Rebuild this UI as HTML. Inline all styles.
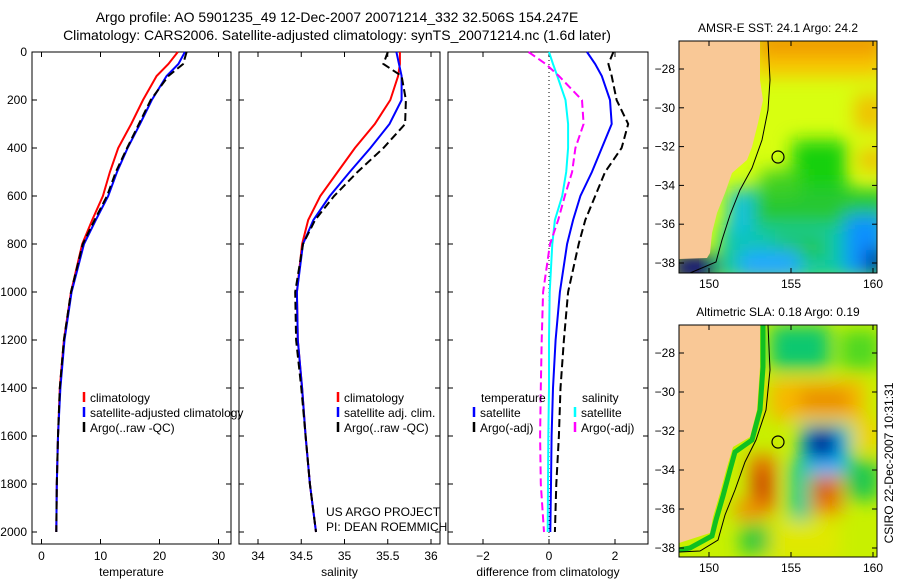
<!DOCTYPE html>
<html><head><meta charset="utf-8"><style>
body{margin:0;background:#fff;width:900px;height:580px;overflow:hidden}
svg{font-family:"Liberation Sans",sans-serif}
</style></head><body>
<svg id="s" width="900" height="580" xmlns="http://www.w3.org/2000/svg">
<defs>
<filter id="bl" x="-20%" y="-20%" width="140%" height="140%"><feGaussianBlur stdDeviation="9"/></filter>
<clipPath id="c1"><rect x="679" y="41" width="198" height="232"/></clipPath>
<clipPath id="c2"><rect x="679" y="325" width="198" height="232"/></clipPath>
</defs>
<text x="337" y="22" font-size="14" text-anchor="middle">Argo profile: AO 5901235_49 12-Dec-2007 20071214_332 32.506S 154.247E</text>
<text x="337" y="40" font-size="14" text-anchor="middle">Climatology: CARS2006. Satellite-adjusted climatology: synTS_20071214.nc (1.6d later)</text>

<g>
<g clip-path="url(#c1)">
<rect x="679" y="41" width="198" height="232" fill="#d8ff10"/>
<g filter="url(#bl)">
<rect x="755" y="30" width="130" height="30" fill="#f09800"/>
<rect x="755" y="55" width="130" height="22" fill="#f8c400"/>
<rect x="855" y="95" width="30" height="35" fill="#f0c000"/>
<rect x="860" y="150" width="25" height="20" fill="#f0b800"/>
<rect x="792" y="140" width="55" height="60" fill="#18d010"/>
<rect x="740" y="188" width="150" height="45" fill="#28c830"/>
<rect x="760" y="170" width="40" height="25" fill="#40d020"/>
<rect x="720" y="225" width="170" height="55" fill="#10c8a8"/>
<rect x="775" y="235" width="50" height="25" fill="#20c850"/>
<rect x="845" y="215" width="40" height="60" fill="#1090ff"/>
<rect x="740" y="250" width="60" height="30" fill="#20a8ff"/>
<rect x="866" y="250" width="20" height="25" fill="#000090"/>
<rect x="672" y="255" width="45" height="25" fill="#000080"/>
<rect x="728" y="190" width="25" height="45" fill="#10c0e0"/>
</g>
</g>
<polygon points="679,41 760,41 760,80 763,100 758,123 752,147 747,160 732,173 725,193 717,213 712,233 710,253 707,258 679,259" fill="#f9c896"/>
<polyline points="768,41 770,80 768,110 762,140 752,168 740,190 730,215 722,240 716,262 690,273" fill="none" stroke="#000" stroke-width="1"/>
<circle cx="778" cy="157" r="6" fill="none" stroke="#000" stroke-width="1.2"/>
<rect x="679" y="41" width="198" height="232" fill="none" stroke="#000"/>
<text x="778" y="32" font-size="12" text-anchor="middle">AMSR-E SST: 24.1 Argo: 24.2</text>
</g>

<g>
<g clip-path="url(#c2)">
<rect x="679" y="325" width="198" height="232" fill="#c8f000"/>
<g filter="url(#bl)">
<rect x="770" y="325" width="60" height="45" fill="#10c870"/>
<rect x="840" y="330" width="40" height="40" fill="#50d820"/>
<rect x="770" y="380" width="95" height="40" fill="#f8b800"/>
<rect x="800" y="390" width="50" height="20" fill="#e88800"/>
<rect x="800" y="425" width="50" height="50" fill="#10b8ff"/>
<rect x="806" y="430" width="32" height="28" fill="#000090"/>
<rect x="790" y="460" width="20" height="60" fill="#10c8a0"/>
<rect x="750" y="455" width="25" height="60" fill="#e87000"/>
<rect x="756" y="470" width="12" height="30" fill="#c02000"/>
<rect x="812" y="475" width="30" height="40" fill="#f08000"/>
<rect x="818" y="482" width="12" height="16" fill="#b00000"/>
<rect x="735" y="500" width="25" height="20" fill="#f09000"/>
<rect x="845" y="460" width="35" height="40" fill="#20c850"/>
<rect x="760" y="520" width="80" height="40" fill="#e0e800"/>
<rect x="740" y="525" width="30" height="30" fill="#30c840"/>
<rect x="855" y="420" width="25" height="30" fill="#f0d000"/>
</g>
</g>
<polyline points="763,325 763,367 760,410 752,440 735,452 730,470 723,496 716,520 712,536 690,548 679,550" fill="none" stroke="#10c020" stroke-width="5"/>
<polygon points="679,325 760,325 760,367 757,410 750,437 733,447 727,467 720,493 713,517 710,533 679,543" fill="#f9c896"/>
<polyline points="768,325 770,370 766,410 756,440 745,462 735,490 725,515 718,540 700,551 679,552" fill="none" stroke="#000" stroke-width="1"/>
<circle cx="778" cy="442" r="6" fill="none" stroke="#000" stroke-width="1.2"/>
<rect x="679" y="325" width="198" height="232" fill="none" stroke="#000"/>
<text x="778" y="316" font-size="12" text-anchor="middle">Altimetric SLA: 0.18 Argo: 0.19</text>
</g>
<text transform="translate(893,463) rotate(-90)" font-size="12" text-anchor="middle">CSIRO 22-Dec-2007 10:31:31</text>
<g id="g"></g>
</svg>
<script>
const depths=[0,50,100,200,300,400,500,600,700,800,1000,1200,1400,1600,1800,2000];
const tempClim=[23.1,21.5,19.5,17.2,15.2,13,11.6,10.4,8.6,6.9,5,3.8,3.1,2.8,2.6,2.5];
const tempSat=[24.3,23.2,21.2,18.7,16.7,14.6,12.8,11.3,9.2,7.2,5.1,3.9,3.2,2.8,2.6,2.5];
const tempArgo=[24.6,24.0,21.5,18.5,16.5,14.5,12.6,11.1,9.0,7.0,5.0,3.8,3.1,2.8,2.6,2.5];
const salClim=[35.64,35.64,35.62,35.53,35.35,35.12,34.92,34.72,34.58,34.51,34.45,34.46,34.51,34.55,34.6,34.67];
const salSat=[35.6,35.63,35.66,35.66,35.52,35.3,35.06,34.83,34.64,34.52,34.45,34.46,34.51,34.55,34.6,34.67];
const salArgo=[35.5,35.45,35.66,35.71,35.70,35.45,35.15,34.88,34.66,34.52,34.43,34.44,34.50,34.55,34.6,34.67];
const dTempSat=[1.15,1.4,1.6,1.85,1.9,1.6,1.3,0.95,0.73,0.55,0.33,0.2,0.12,0.08,0.06,0.04];
const dTempArgo=[1.95,1.8,1.9,2.05,2.4,2.2,1.7,1.4,1.1,0.9,0.58,0.45,0.35,0.3,0.22,0.18];
const dSalSat=[0,0.12,0.25,0.5,0.58,0.58,0.52,0.4,0.18,0.1,0.02,0,0,-0.02,-0.03,-0.04];
const dSalArgo=[-0.62,-0.1,0.3,1.0,1.05,0.8,0.7,0.48,0.28,0.03,-0.18,-0.22,-0.25,-0.27,-0.25,-0.15];
const depthTicks=[0,200,400,600,800,1000,1200,1400,1600,1800,2000];
const tempTicks=[0,10,20,30];
const salTicks=[34,34.5,35,35.5,36];
const diffTicks=[-2,0,2];
const lonTicks=[150,155,160];
const latTicks=[-28,-30,-32,-34,-36,-38];

const NS='http://www.w3.org/2000/svg';
const G=document.getElementById('g');
function mk(tag,attrs,parent){const e=document.createElementNS(NS,tag);for(const k in attrs)e.setAttribute(k,attrs[k]);(parent||G).appendChild(e);return e;}
const Y=d=>52+d*0.24;
const panels=[
 {x0:32,x1:231,x:v=>41.5+v*5.9,ticks:tempTicks,label:'temperature',name:'temperature-panel'},
 {x0:239,x1:440,x:v=>258+(v-34)*86.5,ticks:salTicks,label:'salinity',name:'salinity-panel'},
 {x0:448,x1:648,x:v=>549+v*33,ticks:diffTicks,label:'difference from climatology',name:'difference-panel'}
];
const pTop=52,pBot=544;
panels.forEach((p,i)=>{
 const g=mk('g',{});
 
 
 mk('rect',{x:p.x0,y:pTop,width:p.x1-p.x0,height:pBot-pTop,fill:'none',stroke:'#000'},g);
 p.ticks.forEach(t=>{const x=p.x(t);
  mk('line',{x1:x,x2:x,y1:pBot,y2:pBot-5,stroke:'#000'},g);
  mk('line',{x1:x,x2:x,y1:pTop,y2:pTop+5,stroke:'#000'},g);
  const tx=mk('text',{x:x,y:pBot+16,'font-size':12,'text-anchor':'middle'},g);tx.textContent=(t<0?'\u2212'+(-t):t);
  
  
 });
 depthTicks.forEach(d=>{const y=Y(d);
  mk('line',{x1:p.x0,x2:p.x0+5,y1:y,y2:y,stroke:'#000'},g);
  mk('line',{x1:p.x1,x2:p.x1-5,y1:y,y2:y,stroke:'#000'},g);
  if(i==0){const t=mk('text',{x:27,y:y+4,'font-size':12,'text-anchor':'end'},g);t.textContent=d;
   
   }
 });
 const xl=mk('text',{x:(p.x0+p.x1)/2,y:576,'font-size':12,'text-anchor':'middle'},g);xl.textContent=p.label;
 
 
 p.g=g;
});
function line(p,vals,color,dash,name){
 const pts=vals.map((v,i)=>p.x(v).toFixed(1)+','+Y(depths[i]).toFixed(1)).join(' ');
 const e=mk('polyline',{points:pts,fill:'none',stroke:color,'stroke-width':2,'stroke-dasharray':dash||'none'},p.g);
 
 
}
const P=panels;
line(P[0],tempClim,'#f00',null,'temp-climatology-line');
line(P[0],tempSat,'#00f',null,'temp-satellite-line');
line(P[0],tempArgo,'#000','8,4','temp-argo-line');
line(P[1],salClim,'#f00',null,'sal-climatology-line');
line(P[1],salSat,'#00f',null,'sal-satellite-line');
line(P[1],salArgo,'#000','8,4','sal-argo-line');
const z=mk('line',{x1:P[2].x(0),x2:P[2].x(0),y1:pTop,y2:pBot,stroke:'#000','stroke-dasharray':'1,3'},P[2].g);


line(P[2],dSalSat,'#0ff',null,'sal-satellite-diff-line');
line(P[2],dSalArgo,'#f0f','8,4','sal-argo-diff-line');
line(P[2],dTempSat,'#00f',null,'temp-satellite-diff-line');
line(P[2],dTempArgo,'#000','8,4','temp-argo-diff-line');

function legend(x,y,color,text,pg){
 const g=mk('g',{},pg);
 
 
 mk('line',{x1:x,x2:x,y1:y-10,y2:y,stroke:color,'stroke-width':2.5},g);
 const t=mk('text',{x:x+6,y:y,'font-size':12},g);t.textContent=text;
}
legend(84,402,'#f00','climatology',P[0].g);
legend(84,417,'#00f','satellite-adjusted climatology',P[0].g);
legend(84,432,'#000','Argo(..raw -QC)',P[0].g);
legend(338,402,'#f00','climatology',P[1].g);
legend(338,417,'#00f','satellite adj. clim.',P[1].g);
legend(338,432,'#000','Argo(..raw -QC)',P[1].g);
let t=mk('text',{x:481,y:402,'font-size':12},P[2].g);t.textContent='temperature';
t=mk('text',{x:582,y:402,'font-size':12},P[2].g);t.textContent='salinity';
legend(474,417,'#00f','satellite',P[2].g);
legend(474,432,'#000','Argo(-adj)',P[2].g);
legend(575,417,'#0ff','satellite',P[2].g);
legend(575,432,'#f0f','Argo(-adj)',P[2].g);
t=mk('text',{x:326,y:516,'font-size':12},P[1].g);t.textContent='US ARGO PROJECT';


t=mk('text',{x:326,y:531,'font-size':12},P[1].g);t.textContent='PI: DEAN ROEMMICH';



[[41,273],[325,557]].forEach(([mt,mb],mi)=>{
 const g=mk('g',{});
 
 
 const lx=v=>709+(v-150)*16.4;
 const ly=mi==0?(v=>69+(-28-v)*19.4):(v=>353+(-28-v)*19.5);
 lonTicks.forEach(v=>{const x=lx(v);
  mk('line',{x1:x,x2:x,y1:mb,y2:mb-5,stroke:'#000'},g);
  mk('line',{x1:x,x2:x,y1:mt,y2:mt+5,stroke:'#000'},g);
  const tx=mk('text',{x:x,y:mb+15,'font-size':12,'text-anchor':'middle'},g);tx.textContent=v;});
 latTicks.forEach(v=>{const y=ly(v);
  mk('line',{x1:679,x2:684,y1:y,y2:y,stroke:'#000'},g);
  mk('line',{x1:877,x2:872,y1:y,y2:y,stroke:'#000'},g);
  const tx=mk('text',{x:675,y:y+4,'font-size':12,'text-anchor':'end'},g);tx.textContent='\u2212'+(-v);});
});
</script>
</body></html>
